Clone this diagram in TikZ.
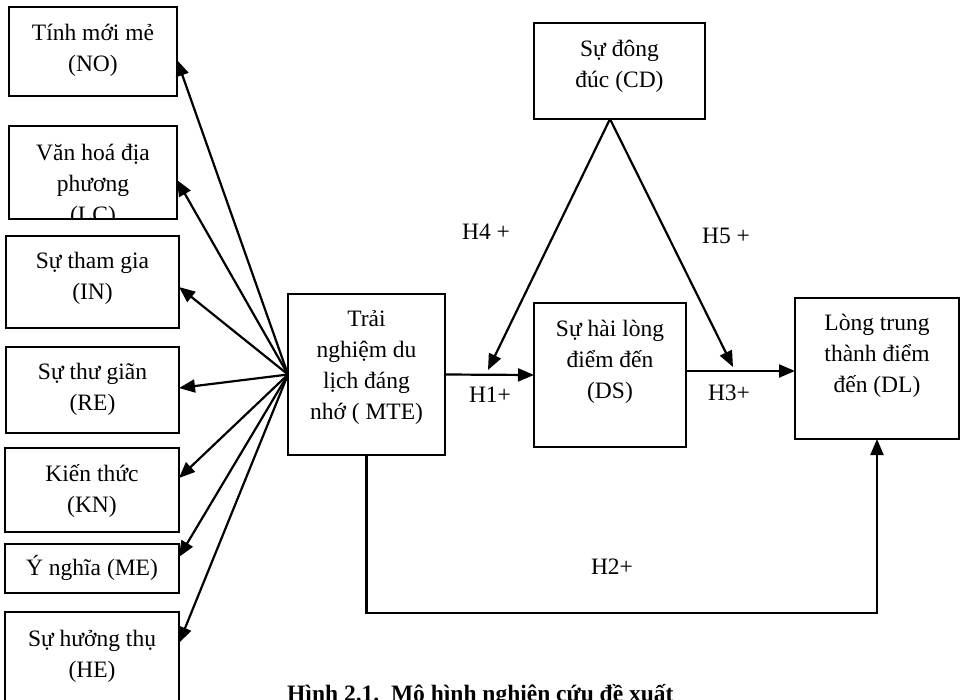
\documentclass[tikz,border=0pt]{standalone}
\usepackage{fontspec}
\setmainfont{Liberation Serif}
\usetikzlibrary{arrows.meta}
\begin{document}
\begin{tikzpicture}[x=1pt,y=-1pt,
  box/.style={draw, line width=2pt, inner sep=0pt, outer sep=0pt, minimum width=#1},
  txt/.style={align=center, inner sep=0pt, font=\fontsize{23.5}{31}\selectfont},
  lbl/.style={inner sep=0pt, font=\fontsize{23.5}{31}\selectfont},
  conn/.style={line width=2.2pt},
  arr/.style={conn, -{Triangle[length=16pt,width=13pt]}}]
\useasboundingbox (0,0) rectangle (964,699);
% boxes
\node[box=168, minimum height=89] (NO) at (93,51.5) {};
\node[box=168, minimum height=93] (LC) at (93,172.5) {};
\node[box=173, minimum height=92] (IN) at (92.5,282) {};
\node[box=173, minimum height=86] (RE) at (92.5,390) {};
\node[box=174, minimum height=84] (KN) at (92,490) {};
\node[box=174, minimum height=49] (ME) at (92,568.5) {};
\node[box=174, minimum height=90] (HE) at (92,657) {};
\node[box=157, minimum height=161] (MTE) at (366.5,374.5) {};
\node[box=171, minimum height=96] (CD) at (619.5,71) {};
\node[box=152, minimum height=144] (DS) at (610,375) {};
\node[box=164, minimum height=141] (DL) at (877,368.5) {};
% texts
\node[txt] (tNO) at (93,50.5) {Tính mới mẻ\\(NO)};
\begin{scope}
\clip (LC.south west) rectangle (LC.north east);
\node[txt] (tLC) at (93,186) {Văn hoá địa\\phương\\(LC)};
\end{scope}
\node[txt] (tIN) at (92.5,278.5) {Sự tham gia\\(IN)};
\node[txt] (tRE) at (92.5,389) {Sự thư giãn\\(RE)};
\node[txt] (tKN) at (92,491) {Kiến thức\\(KN)};
\node[txt] (tME) at (92,568) {Ý nghĩa (ME)};
\node[txt] (tHE) at (92,656) {Sự hưởng thụ\\(HE)};
\node[txt] (tMTE) at (366.5,368) {Trải\\nghiệm du\\lịch đáng\\nhớ ( MTE)};
\node[txt] (tCD) at (619.5,66) {Sự đông\\đúc (CD)};
\node[txt] (tDS) at (610,362) {Sự hài lòng\\điểm đến\\(DS)};
\node[txt] (tDL) at (877,356) {Lòng trung\\thành điểm\\đến (DL)};
% fan arrows
\draw[arr] (MTE.west) -- (NO.east |- 0,60);
\draw[arr] (MTE.west) -- (LC.east |- 0,180);
\draw[arr] (MTE.west) -- (IN.east |- 0,287);
\draw[arr] (MTE.west) -- (RE.east |- 0,388);
\draw[arr] (MTE.west) -- (KN.east |- 0,478);
\draw[arr] (MTE.west) -- (ME.east |- 0,557);
\draw[arr] (MTE.west) -- (HE.east |- 0,643);
% main paths
\draw[arr] (MTE.east) -- (DS.west);
\draw[arr] (DS.east |- 0,371) -- (DL.west |- 0,371);
\draw[arr] (MTE.south) -- (MTE.south |- 0,613) -- (DL.south |- 0,613) -- (DL.south);
\coordinate (h4end) at (488,370);
\coordinate (h5end) at (733,367);
\coordinate (apex) at (610,119);
\draw[arr] (apex) -- (h4end);
\draw[arr] (apex) -- (h5end);
% labels
\node[lbl] (H1) at (490,395) {H1+};
\node[lbl] (H3) at (729,393) {H3+};
\node[lbl] (H2) at (612,567) {H2+};
\node[lbl] (H4) at (486,232) {H4 +};
\node[lbl] (H5) at (726,236) {H5 +};
% caption
\node[inner sep=0pt, anchor=base west, font=\fontsize{23.5}{31}\selectfont\bfseries] (cap) at (287,701) {Hình 2.1.\ \ Mô hình nghiên cứu đề xuất};
\end{tikzpicture}
\end{document}
